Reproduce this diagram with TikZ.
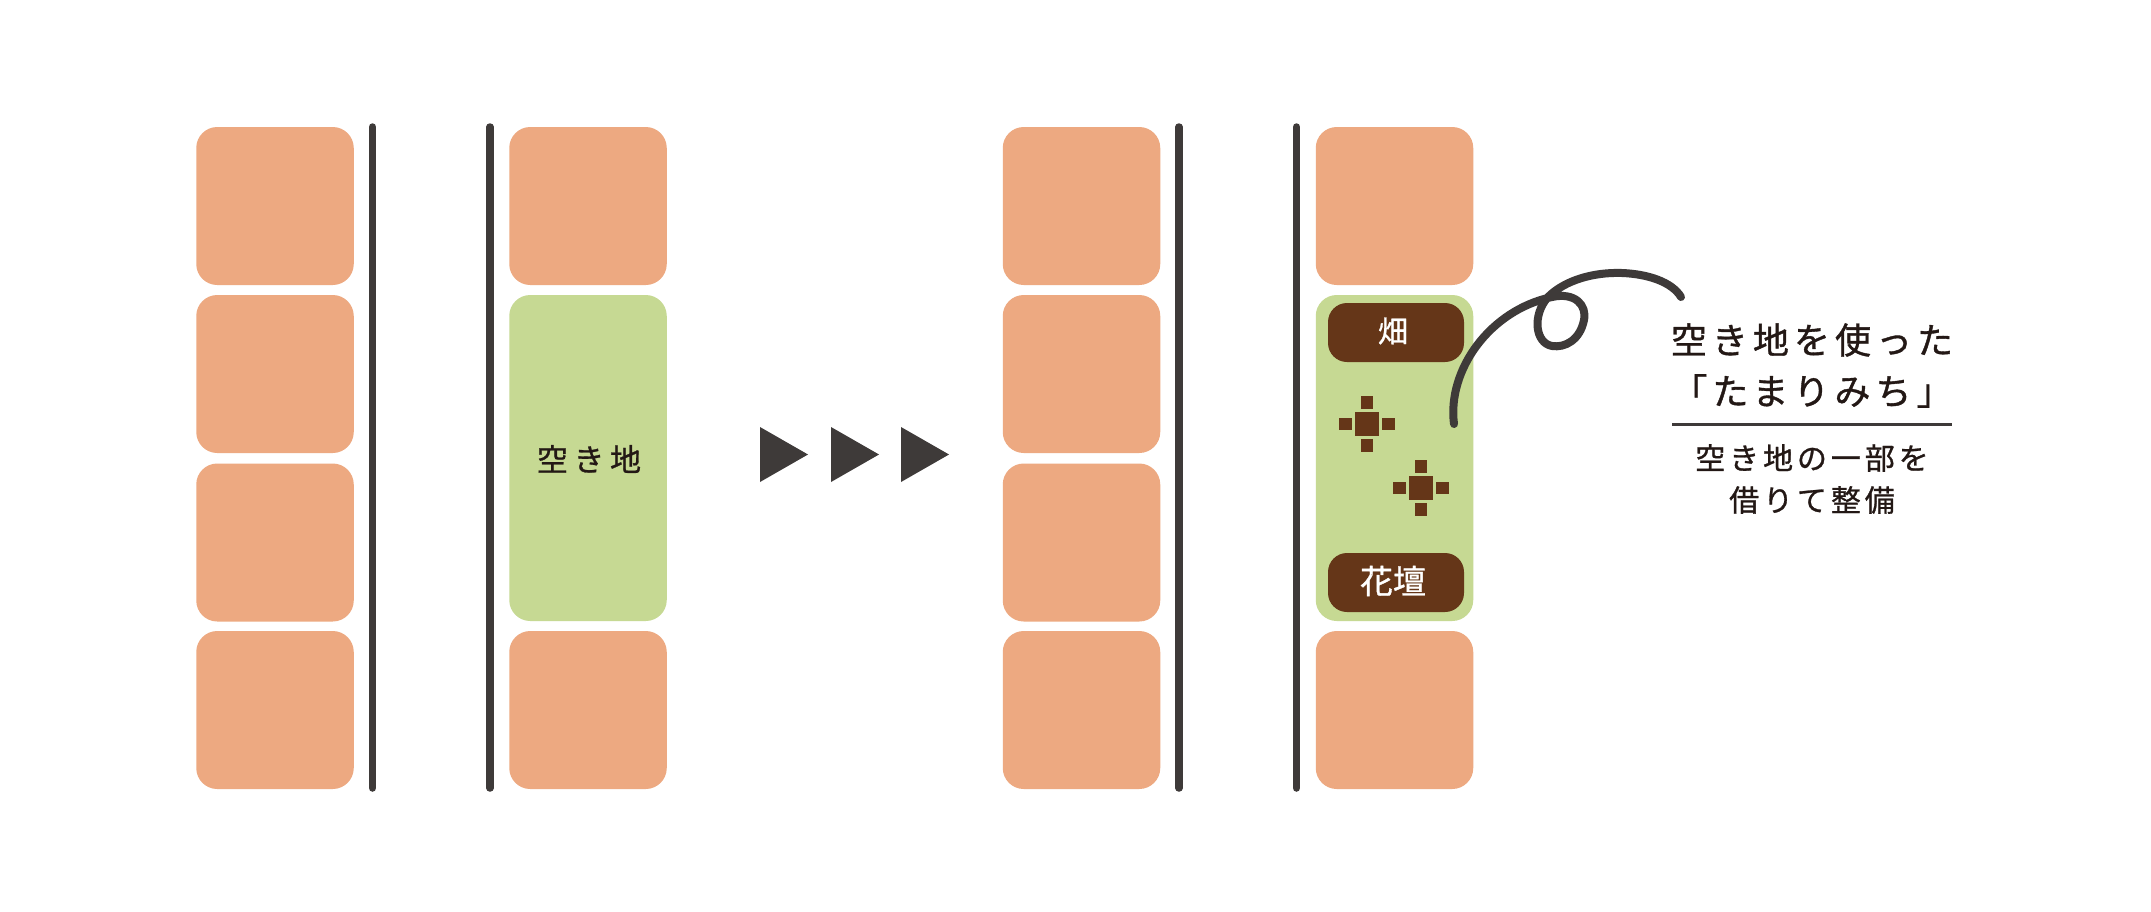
\documentclass[tikz,border=0pt]{standalone}
\usepackage{fontspec}
\newfontfamily\cjk[FakeBold=1]{Noto Sans CJK JP}
\newfontfamily\cjkhead[LetterSpace=14,FakeBold=1]{Noto Sans CJK JP}
\newfontfamily\cjksub[LetterSpace=13,FakeBold=0.9]{Noto Sans CJK JP}
\newfontfamily\cjkempty[LetterSpace=18,FakeBold=0.9]{Noto Sans CJK JP}
\definecolor{lotorange}{HTML}{EDA981}
\definecolor{lotgreen}{HTML}{C6D993}
\definecolor{roaddark}{HTML}{3E3A39}
\definecolor{soilbrown}{HTML}{653618}
\definecolor{inkdark}{HTML}{231815}
\tikzset{
  x=1pt,y=-1pt,
  lot/.style={rectangle,rounded corners=21pt,inner sep=0pt,minimum width=157.5pt,minimum height=158pt,fill=lotorange},
  emptylot/.style={lot,minimum height=326pt,fill=lotgreen},
  road/.style={draw=roaddark,line width=7.5pt,line cap=round},
  tri/.style={fill=roaddark},
  bed/.style={rectangle,rounded corners=19pt,inner sep=0pt,minimum width=136pt,minimum height=59pt,fill=soilbrown,text=white},
  bigsq/.style={rectangle,inner sep=0pt,minimum size=24.5pt,fill=soilbrown},
  smallsq/.style={rectangle,inner sep=0pt,minimum size=12.5pt,fill=soilbrown},
  lbl/.style={inner sep=0pt,text=inkdark,align=center},
}
\begin{document}
\begin{tikzpicture}
\useasboundingbox (0,0) rectangle (2151,911);
\fill[white] (0,0) rectangle (2151,911);
% column 1
\foreach \n/\y in {1/206,2/374,3/542.5,4/710}
  \node[lot] (a\n) at (275,\y) {};
% column 2
\node[lot] (b1) at (588,206) {};
\node[emptylot] (b2) at (588,458) {};
\node[lot] (b4) at (588,710) {};
% column 3
\foreach \n/\y in {1/206,2/374,3/542.5,4/710}
  \node[lot] (c\n) at (1081.5,\y) {};
% column 4
\node[lot] (d1) at (1394.5,206) {};
\node[emptylot] (d2) at (1394.5,458) {};
\node[lot] (d4) at (1394.5,710) {};
% roads
\foreach \n/\x in {r1/372.5,r2/490,r3/1179,r4/1296.5}{
  \coordinate (\n t) at (\x,127);
  \coordinate (\n b) at (\x,788);
  \draw[road] (\n t) -- (\n b);
}
% arrows
\foreach \n/\x in {1/760,2/831,3/901}
  \fill[tri] (\x,427) -- (\x+48,454.5) -- (\x,482) -- cycle;
% labels
\node[lbl,font=\cjkempty\fontsize{31}{36}\selectfont] (akichi) at (589,459) {空き地};
\node[bed] (hata) at (1396,332.5) {};
\node[text=white,inner sep=0pt,font=\cjk\fontsize{30}{36}\selectfont] (hatalabel) at (1393,331) {畑};
\node[bed] (kadan) at (1396,582.5) {};
\node[text=white,inner sep=0pt,font=\cjk\fontsize{33}{38}\selectfont] (kadanlabel) at (1393,581) {花壇};
% flowers
\foreach \n/\cx/\cy in {p/1367/424,q/1421/488}{
  \node[bigsq] (\n c) at (\cx,\cy) {};
  \node[smallsq] (\n t) at (\cx,\cy-21.5) {};
  \node[smallsq] (\n b) at (\cx,\cy+21.5) {};
  \node[smallsq] (\n l) at (\cx-21.5,\cy) {};
  \node[smallsq] (\n r) at (\cx+21.5,\cy) {};
}
% curl
\draw[roaddark,line width=8pt,line cap=round,line join=round]
  (1454,424) .. controls (1447,370) and (1490,310) .. (1552,297)
  .. controls (1575,292) and (1587,305) .. (1584,320)
  .. controls (1580,340) and (1565,348) .. (1552,346)
  .. controls (1535,343) and (1532,315) .. (1548,297)
  .. controls (1565,280) and (1594,272) .. (1622,273)
  .. controls (1648,274) and (1672,282) .. (1681,297);
% callout text
\node[lbl,font=\cjkhead\fontsize{36}{40}\selectfont] (h1) at (1812,340) {空き地を使った};
\node[lbl,font=\cjkhead\fontsize{36}{40}\selectfont] (h2) at (1812,391) {「たまりみち」};
\coordinate (ruleL) at (1672,424);
\coordinate (ruleR) at (1952,424);
\draw[roaddark,line width=3pt] (ruleL) -- (ruleR);
\node[lbl,font=\cjksub\fontsize{30}{35}\selectfont] (s1) at (1812,458) {空き地の一部を};
\node[lbl,font=\cjksub\fontsize{30}{35}\selectfont] (s2) at (1812,500) {借りて整備};
\end{tikzpicture}
\end{document}
